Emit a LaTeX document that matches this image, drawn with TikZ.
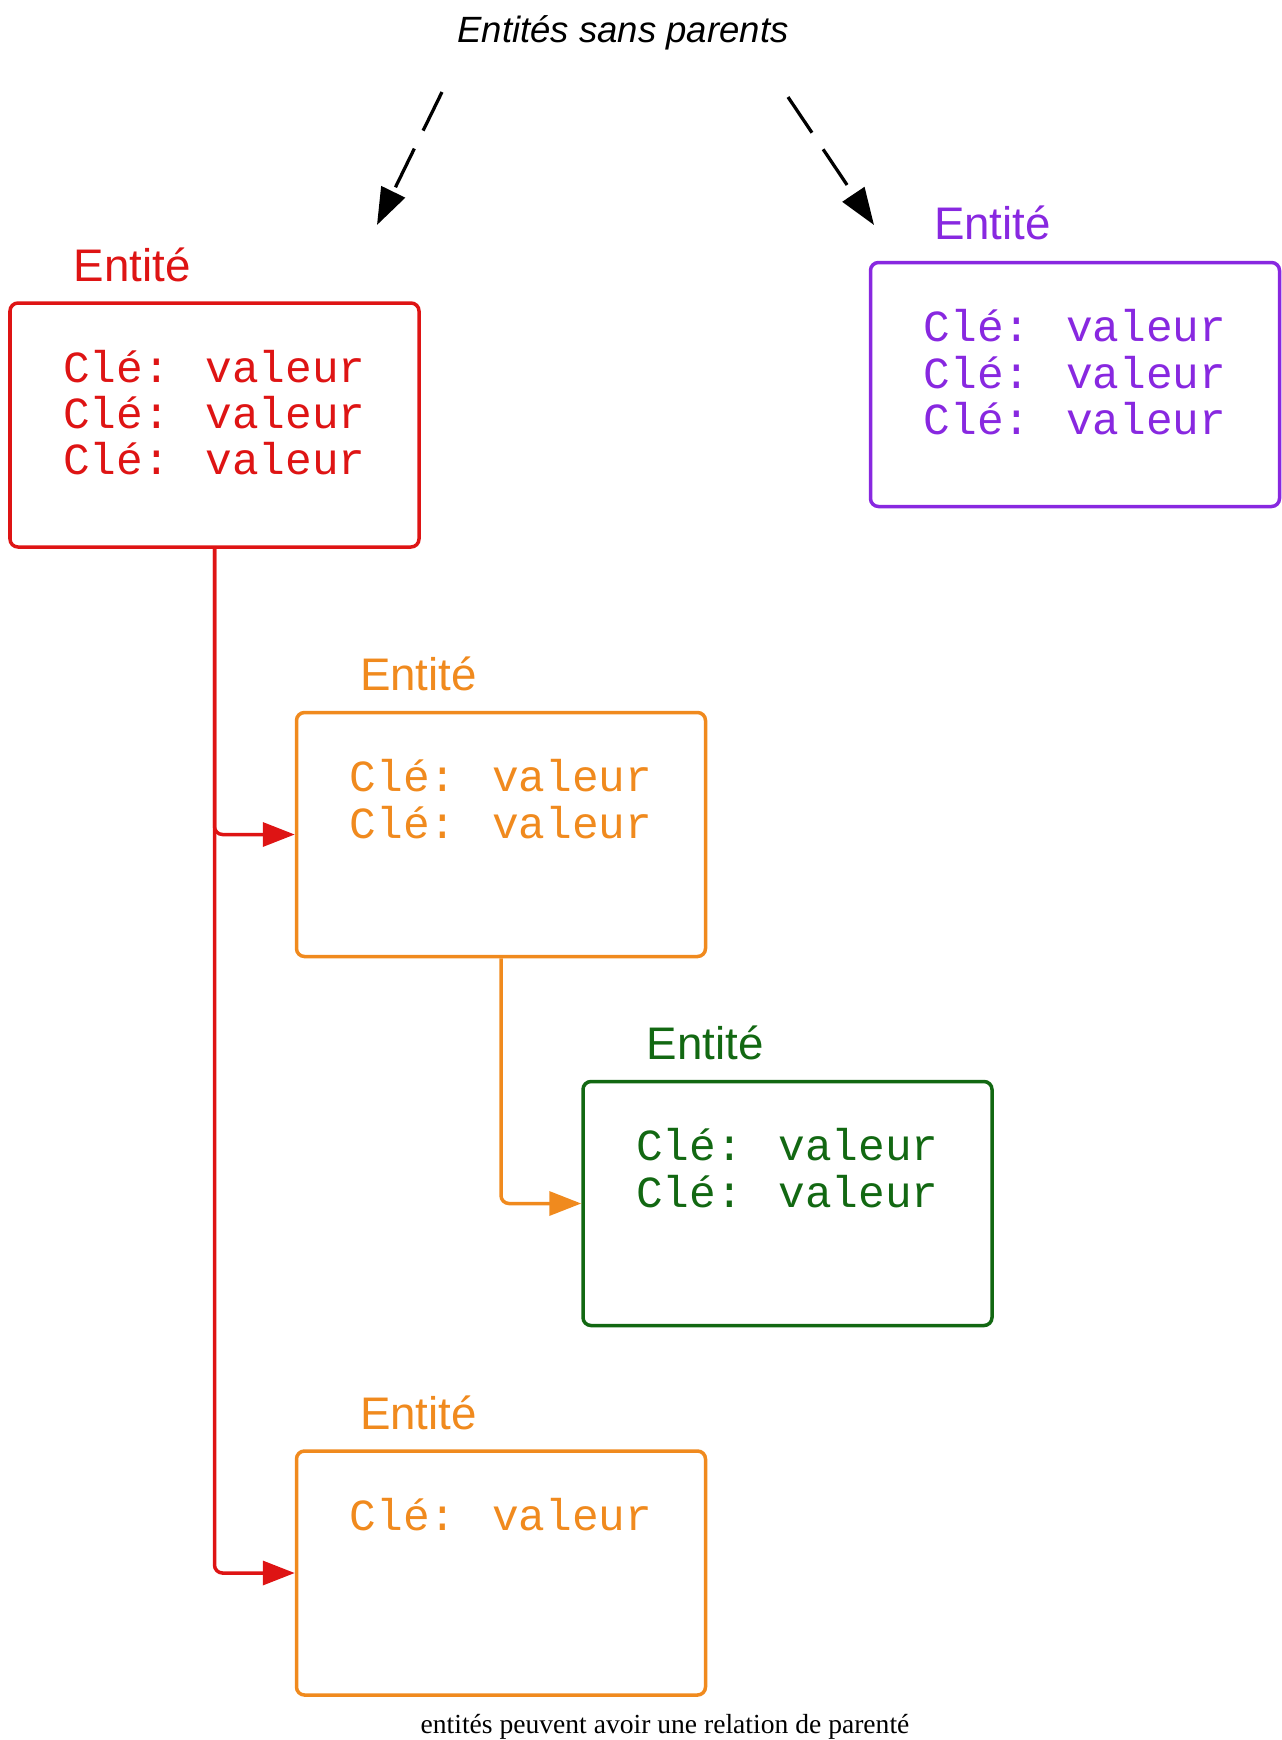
\documentclass[tikz,border=0pt]{standalone}
\usepackage{fontspec}
\setmainfont{Liberation Serif}
\newfontfamily\entsans{Liberation Sans}
\newfontfamily\entmono{Liberation Mono}
\definecolor{entred}{RGB}{222,20,20}
\definecolor{entpurple}{RGB}{136,40,224}
\definecolor{entorange}{RGB}{240,138,30}
\definecolor{entgreen}{RGB}{18,104,18}
\usetikzlibrary{arrows.meta,positioning}

\begin{document}
\begin{tikzpicture}[
  ent/.style={draw=#1, rounded corners=0.16cm, line width=0.07cm, minimum width=8.18cm, minimum height=4.88cm, inner sep=0pt},
  kv/.style={text=#1, font=\entmono\fontsize{25.3}{26.3}\selectfont, align=center, inner sep=0pt},
  lbl/.style={text=#1, font=\entsans\fontsize{26}{30}\selectfont, inner sep=0pt, anchor=base west},
  link/.style={draw=#1, line width=0.07cm, rounded corners=0.16cm, -{Triangle[length=0.64cm,width=0.48cm,fill=#1]}},
  orphan/.style={line width=0.065cm, dash pattern=on 0.86cm off 0.4cm, -{Triangle[length=0.74cm,width=0.52cm]}}]
\useasboundingbox (0,0) rectangle (25.64,-34.8);
% Title
\node[font=\entsans\itshape\fontsize{20.8}{25}\selectfont, anchor=base, inner sep=0pt] (title) at (12.46,-0.84) {Entités sans parents};
% Entities
\node[ent=entred] (root) at (4.29,-8.50) {};
\node[ent=entpurple] (lone) at (21.50,-7.69) {};
\node[ent=entorange] (child) at (10.02,-16.69) {};
\node[ent=entgreen] (grandchild) at (15.75,-24.07) {};
\node[ent=entorange] (child2) at (10.02,-31.46) {};
% Labels
\node[lbl=entred] (rootlbl) at ([shift={(1.3,0.4)}]root.north west) {Entité};
\node[lbl=entpurple] (lonelbl) at ([shift={(1.3,0.42)}]lone.north west) {Entité};
\node[lbl=entorange] (childlbl) at ([shift={(1.3,0.4)}]child.north west) {Entité};
\node[lbl=entgreen] (grandchildlbl) at ([shift={(1.3,0.4)}]grandchild.north west) {Entité};
\node[lbl=entorange] (child2lbl) at ([shift={(1.3,0.4)}]child2.north west) {Entité};
% Keys and values
\node[kv=entred, below=0.97cm of root.north] (roottxt) {Clé: valeur\\Clé: valeur\\Clé: valeur};
\node[kv=entpurple, below=0.97cm of lone.north] (lonetxt) {Clé: valeur\\Clé: valeur\\Clé: valeur};
\node[kv=entorange, below=0.97cm of child.north] (childtxt) {Clé: valeur\\Clé: valeur};
\node[kv=entgreen, below=0.97cm of grandchild.north] (grandchildtxt) {Clé: valeur\\Clé: valeur};
\node[kv=entorange, below=0.97cm of child2.north] (child2txt) {Clé: valeur};
% Parent links
\draw[link=entred] (root.south) |- (child.west);
\draw[link=entred] (root.south) |- (child2.west);
\draw[link=entorange] (child.south) |- (grandchild.west);
% Orphans
\coordinate (ltail) at (8.84,-1.84);
\coordinate (lhead) at (7.54,-4.50);
\coordinate (rtail) at (15.76,-1.94);
\coordinate (rhead) at (17.48,-4.50);
\draw[orphan] (ltail) -- (lhead);
\draw[orphan] (rtail) -- (rhead);
% Caption
\node[font=\fontsize{15.7}{19}\selectfont, anchor=base, inner sep=0pt] (caption) at (13.3,-34.66) {entités peuvent avoir une relation de parenté};
\end{tikzpicture}
\end{document}
